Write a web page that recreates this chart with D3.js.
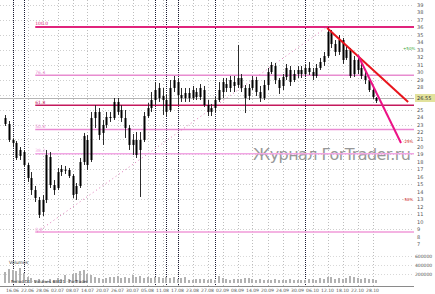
<!DOCTYPE html>
<html>
<head>
<meta charset="utf-8">
<script src="https://cdn.jsdelivr.net/npm/d3@7"></script>
<style>
body { margin: 0; background: #fff; }
svg { display: block; }
text { font-family: "DejaVu Sans", sans-serif; }
</style>
</head>
<body>
<div class="graph"></div>
<script>
// Bougies (open / high / low / close), 100 barres
var opens  = [23.87,23.07,20.93,20.53,18.79,19.32,17.58,15.84,14.23,12.90,11.29,12.90,18.65,14.90,14.50,16.64,16.91,16.91,16.11,13.70,
              14.77,17.98,20.93,18.25,23.87,24.68,21.87,22.94,24.01,23.87,26.02,24.94,23.87,22.54,20.26,20.93,19.59,20.93,24.14,25.21,
              26.28,27.89,26.82,26.28,24.94,27.89,28.69,26.95,26.55,27.22,26.55,27.35,26.68,27.62,25.61,24.68,25.21,26.28,27.35,28.42,
              27.89,28.69,28.29,29.23,27.89,26.82,27.89,28.96,27.35,26.55,28.29,30.03,30.83,28.96,28.16,29.36,30.30,28.96,29.76,30.30,
              29.76,30.57,30.03,29.50,30.57,31.37,32.17,35.39,33.78,32.71,34.31,31.91,32.98,29.76,31.64,30.57,29.50,28.96,27.62,26.15];
var highs  = [24.27,23.47,21.20,20.79,19.99,19.59,17.85,16.64,14.77,13.30,13.57,19.59,19.32,15.57,17.18,17.58,17.45,17.18,16.38,15.17,
              18.52,21.87,21.60,24.68,25.61,25.21,23.61,24.68,24.68,26.55,26.55,25.61,24.94,22.94,21.73,22.00,22.00,24.68,25.88,27.35,
              28.69,28.56,27.89,27.09,28.96,29.50,29.23,27.89,27.89,27.89,28.16,27.89,28.42,28.16,26.28,25.75,26.68,28.69,29.23,29.23,
              29.50,29.50,33.65,29.76,28.29,28.42,29.50,29.36,28.16,28.96,30.57,31.37,31.24,29.23,29.76,31.10,30.83,30.30,30.83,30.83,
              31.10,31.37,30.57,31.10,31.91,32.71,36.06,35.65,34.31,34.98,34.58,33.51,33.24,32.17,32.31,31.37,30.03,29.23,27.89,26.68];
var lows   = [22.80,20.66,20.12,18.25,18.25,17.31,15.31,13.57,12.63,10.49,10.75,12.49,14.50,13.57,14.23,16.11,16.38,15.84,13.16,12.90,
              14.50,17.58,16.91,17.98,22.54,20.93,20.26,22.54,23.34,23.61,24.27,23.34,21.20,19.59,18.92,18.52,13.30,20.66,23.87,24.68,
              25.61,26.02,24.27,24.14,24.68,27.35,25.61,26.02,26.02,26.02,26.28,26.28,26.28,25.35,24.14,24.14,24.68,26.02,26.55,27.35,
              27.35,27.35,27.89,27.35,24.54,26.28,27.62,26.82,26.02,26.28,27.62,29.76,28.42,27.09,27.62,28.96,28.16,28.69,29.23,29.23,
              29.50,29.63,28.96,29.23,30.30,30.83,31.91,33.24,32.17,32.31,31.10,31.64,29.23,29.36,29.76,29.09,28.42,27.35,26.42,25.88];
var closes = [23.07,20.93,20.53,18.52,19.59,17.58,15.84,14.23,13.16,10.89,12.90,18.92,14.90,14.23,16.64,17.05,16.95,16.11,13.57,14.77,
              17.98,21.46,17.58,23.87,24.68,21.60,22.94,24.01,23.87,26.02,24.68,23.87,22.54,20.26,20.93,18.92,20.93,24.14,25.21,26.28,
              27.62,26.55,26.28,24.68,27.89,28.96,26.95,26.55,27.22,26.55,27.62,26.68,27.89,25.61,24.68,25.21,26.28,27.62,28.69,27.89,
              28.96,28.16,29.23,27.89,26.55,27.89,28.96,27.35,26.55,28.29,30.03,30.97,28.96,27.89,29.36,30.57,28.69,29.76,30.30,29.76,
              30.57,30.03,29.50,30.57,31.37,32.17,35.39,33.78,32.71,34.31,31.64,32.98,29.50,31.64,30.30,29.50,28.96,27.62,26.68,26.55];
var volumes = [248000,316000,294000,271000,339000,226000,135000,113000,68000,90000,68000,45000,90000,68000,113000,90000,181000,90000,203000,226000,
               271000,294000,203000,181000,135000,113000,90000,113000,135000,135000,158000,113000,135000,113000,181000,135000,158000,113000,135000,113000,
               135000,135000,113000,135000,113000,135000,90000,113000,135000,68000,68000,90000,90000,90000,68000,90000,68000,158000,113000,90000,
               68000,90000,90000,90000,113000,113000,90000,68000,90000,68000,68000,68000,90000,68000,68000,68000,90000,68000,68000,68000,
               68000,90000,90000,68000,113000,90000,135000,135000,90000,113000,90000,113000,158000,135000,113000,90000,113000,90000,90000,68000];

// axes
var priceTicks = [39,38,37,36,35,34,33,32,31,30,29,28,27,26,25,24,23,22,21,20,19,18,17,16,15,14,13,12,11,10,9,8,7];
var priceGrid = [39,37,35,33,31,29,27,25,23,21,19,17,15,13,11,9];
var volumeTicks = [600000, 400000, 200000];
var timeBars = [2,6,10,14,18,22,26,30,34,38,42,46,50,54,58,62,66,70,74,78,82,86,90,94,98];
var timeLabels = ["16.06","22.06","28.06","02.07","08.07","14.07","20.07","26.07","30.07","05.08","11.08","17.08","23.08",
                  "27.08","02.09","08.09","14.09","20.09","24.09","30.09","06.10","12.10","18.10","22.10","28.10"];
var separatorBars = [2, 5, 40, 43, 46, 56, 80];

// Fibonacci + lignes de tendance
var fiboFrom = {bar: 8.6, price: 8.61};
var fiboTo = {bar: 85.9, price: 36.06};
var fiboLevels = [0, 0.382, 0.5, 0.618, 0.764, 1];
var fiboLabels = ["0.0", "38.2", "50.0", "61.8", "76.4", "100.0"];
var fiboColors = ["#f09ad8", "#f2a6e4", "#ea8ad2", "#c4185c", "#e88cd0", "#e0247c"];
var redLine = [{bar: 85.9, price: 35.92}, {bar: 107.5, price: 26.01}];
var pinkLine = [{bar: 94.1, price: 32.31}, {bar: 105.6, price: 20.53}];
var lastPrice = 26.55;
var sideLabels = [{price: 33.2, text: "+50%", color: "#3aa83a"}, {price: 20.7, text: "-25%", color: "#d02020"}, {price: 12.9, text: "-50%", color: "#d02020"}];

var width = 435, height = 294;
var plot_right = 414;
var plot_bottom = 286;

var svg = d3.select('.graph').append('svg')
    .attr('width', width)
    .attr('height', height);

var xScale = d3.scaleLinear().domain([0, 99]).range([5, 376.25]);
var yScale = d3.scaleLinear().domain([7, 39]).range([244.04, 5]);
var vScale = d3.scaleLinear().domain([0, 700000]).range([283, 252]);

// grid
svg.append('g').selectAll('line')
    .data(priceGrid).enter().append('line')
    .attr('x1', 0).attr('x2', plot_right)
    .attr('y1', function(d){ return Math.round(yScale(d)) + 0.5; })
    .attr('y2', function(d){ return Math.round(yScale(d)) + 0.5; })
    .attr('stroke', '#cfcfcf').attr('stroke-dasharray', '1,2');

svg.append('g').selectAll('line')
    .data(volumeTicks).enter().append('line')
    .attr('x1', 0).attr('x2', plot_right)
    .attr('y1', function(d){ return Math.round(vScale(d)) + 0.5; })
    .attr('y2', function(d){ return Math.round(vScale(d)) + 0.5; })
    .attr('stroke', '#d8d8d8').attr('stroke-dasharray', '1,2');

svg.append('g').selectAll('line')
    .data(timeBars).enter().append('line')
    .attr('x1', function(d){ return Math.round(xScale(d)) + 0.5; })
    .attr('x2', function(d){ return Math.round(xScale(d)) + 0.5; })
    .attr('y1', 0).attr('y2', plot_bottom)
    .attr('stroke', '#bdbdbd').attr('stroke-dasharray', '1,2');

// period separators
svg.append('g').selectAll('line')
    .data(separatorBars).enter().append('line')
    .attr('x1', function(d){ return Math.round(xScale(d)) + 0.5; })
    .attr('x2', function(d){ return Math.round(xScale(d)) + 0.5; })
    .attr('y1', 0).attr('y2', plot_bottom)
    .attr('stroke', '#1a1a33').attr('stroke-dasharray', '1,1');

// watermark
svg.append('text')
    .attr('x', 253).attr('y', 160)
    .attr('font-family', 'Liberation Sans, Arial, sans-serif')
    .attr('font-size', 16)
    .attr('textLength', 158)
    .attr('fill', '#979797')
    .text('Журнал ForTrader.ru');

// fibo levels
var fx0 = xScale(fiboFrom.bar);
var fibo = svg.append('g');
fiboLevels.forEach(function(r, i){
    var p = fiboFrom.price + r * (fiboTo.price - fiboFrom.price);
    var y = yScale(p);
    fibo.append('line')
        .attr('x1', fx0 - 2).attr('x2', plot_right)
        .attr('y1', y).attr('y2', y)
        .attr('stroke', fiboColors[i])
        .attr('stroke-width', r == 1 ? 2 : (r == 0.618 ? 1.6 : 1.5));
    fibo.append('text')
        .attr('x', fx0 - 2).attr('y', y - 1.5)
        .attr('font-size', 4.5)
        .attr('fill', fiboColors[i])
        .text(fiboLabels[i]);
});
fibo.append('line')
    .attr('x1', xScale(fiboFrom.bar)).attr('y1', yScale(fiboFrom.price))
    .attr('x2', xScale(fiboTo.bar)).attr('y2', yScale(fiboTo.price))
    .attr('stroke', '#e07ab8').attr('stroke-dasharray', '1,3');

// current price line
svg.append('line')
    .attr('x1', 0).attr('x2', plot_right)
    .attr('y1', Math.round(yScale(lastPrice)) + 0.5).attr('y2', Math.round(yScale(lastPrice)) + 0.5)
    .attr('stroke', '#b4b4b4');

// volumes
svg.append('g').selectAll('rect')
    .data(volumes).enter().append('rect')
    .attr('x', function(d, i){ return Math.round(xScale(i)) - 1; })
    .attr('width', 2)
    .attr('y', function(d){ return vScale(d); })
    .attr('height', function(d){ return vScale(0) - vScale(d); })
    .attr('fill', '#b2b2b2');

// candles
var candles = svg.append('g').selectAll('g')
    .data(opens).enter().append('g');

candles.append('line')
    .attr('x1', function(d, i){ return Math.round(xScale(i)) + 0.5; })
    .attr('x2', function(d, i){ return Math.round(xScale(i)) + 0.5; })
    .attr('y1', function(d, i){ return yScale(highs[i]); })
    .attr('y2', function(d, i){ return yScale(lows[i]); })
    .attr('stroke', '#2a2a2a');

candles.append('rect')
    .attr('x', function(d, i){ return Math.round(xScale(i)) - 0.5; })
    .attr('width', 2)
    .attr('y', function(d, i){ return yScale(Math.max(opens[i], closes[i])); })
    .attr('height', function(d, i){ return Math.max(1, Math.abs(yScale(opens[i]) - yScale(closes[i]))); })
    .attr('fill', '#000');

// trend lines
svg.append('line')
    .attr('x1', xScale(redLine[0].bar)).attr('y1', yScale(redLine[0].price))
    .attr('x2', xScale(redLine[1].bar)).attr('y2', yScale(redLine[1].price))
    .attr('stroke', '#e8141c').attr('stroke-width', 2);
svg.append('line')
    .attr('x1', xScale(pinkLine[0].bar)).attr('y1', yScale(pinkLine[0].price))
    .attr('x2', xScale(pinkLine[1].bar)).attr('y2', yScale(pinkLine[1].price))
    .attr('stroke', '#ec1386').attr('stroke-width', 2);

svg.append('g').selectAll('text')
    .data(sideLabels).enter().append('text')
    .attr('x', 403).attr('y', function(d){ return yScale(d.price) + 1.5; })
    .attr('font-size', 4)
    .attr('fill', function(d){ return d.color; })
    .text(function(d){ return d.text; });

// bottom border
svg.append('line')
    .attr('x1', 0).attr('x2', plot_right)
    .attr('y1', plot_bottom + 0.5).attr('y2', plot_bottom + 0.5)
    .attr('stroke', '#8a8a8a');

// right axis (labels hidden under the price box are skipped, as in the terminal)
svg.append('g').selectAll('text')
    .data(priceTicks.filter(function(d){ return Math.abs(yScale(d) - yScale(lastPrice)) > 5; }))
    .enter().append('text')
    .attr('x', 417).attr('y', function(d){ return yScale(d) + 2; })
    .attr('font-size', 5)
    .attr('fill', '#555')
    .text(function(d){ return d; });

svg.append('g').selectAll('text')
    .data(volumeTicks).enter().append('text')
    .attr('x', 415).attr('y', function(d){ return vScale(d) + 2; })
    .attr('font-size', 4.5)
    .attr('fill', '#555')
    .text(function(d){ return d; });

// last price box
svg.append('rect')
    .attr('x', 415).attr('y', yScale(lastPrice) - 4)
    .attr('width', 20).attr('height', 8)
    .attr('fill', '#e2e29c');
svg.append('text')
    .attr('x', 417).attr('y', yScale(lastPrice) + 2)
    .attr('font-size', 5)
    .attr('fill', '#333')
    .text(lastPrice.toFixed(2));

// time axis
svg.append('g').selectAll('text')
    .data(timeBars).enter().append('text')
    .attr('x', function(d){ return xScale(d); })
    .attr('y', 292)
    .attr('text-anchor', 'middle')
    .attr('font-size', 4.5)
    .attr('fill', '#555')
    .text(function(d, i){ return timeLabels[i]; });

// volume panel caption
svg.append('text')
    .attr('x', 9).attr('y', 264)
    .attr('font-size', 4.5)
    .attr('fill', '#333')
    .text('Volumes');
svg.append('text')
    .attr('x', 11).attr('y', 283)
    .attr('font-size', 4)
    .attr('fill', '#333')
    .text('Period D1 · Volumes 68421 · ForTrader');
</script>
</body>
</html>
